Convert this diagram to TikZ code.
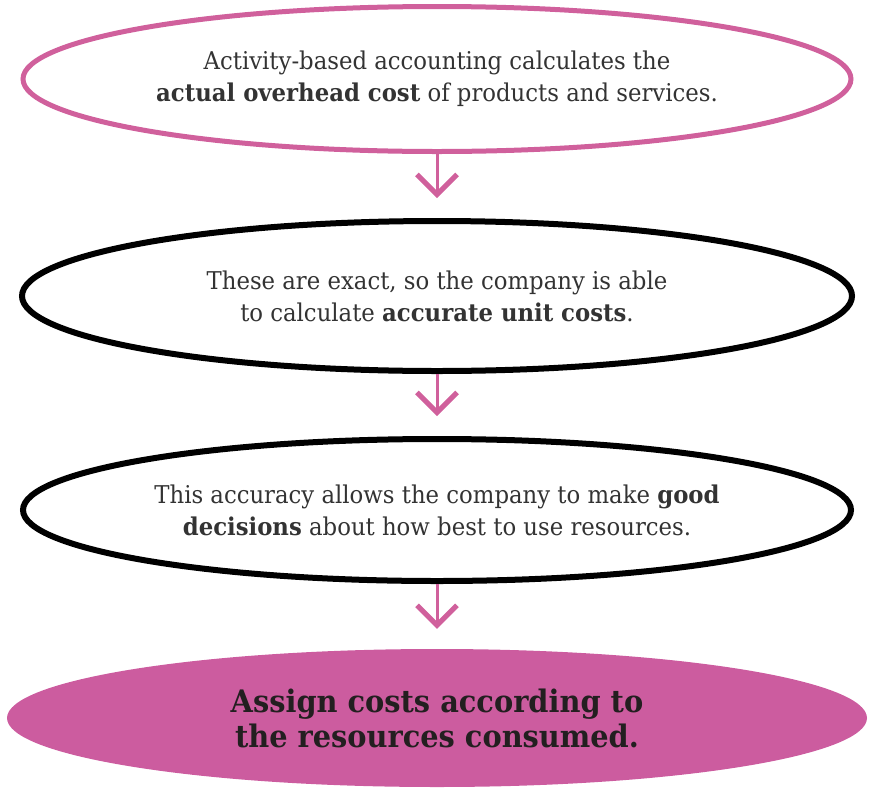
\documentclass[tikz,border=0pt]{standalone}
\usepackage{fontspec}
\setmainfont{DejaVu Serif}[FakeStretch=0.93]
\usetikzlibrary{shapes.geometric,arrows.meta}
\definecolor{pinkline}{HTML}{D0609C}
\definecolor{pinkfill}{HTML}{CC5C9F}
\definecolor{txt}{HTML}{333333}
\definecolor{darktxt}{HTML}{231F20}
\begin{document}
\begin{tikzpicture}[x=1pt,y=-1pt,
  bubble/.style={ellipse, inner sep=0pt, align=center, font=\fontsize{24.5}{32}\selectfont, text=txt},
  pinkring/.style={bubble, draw=pinkline, line width=5pt},
  blackring/.style={bubble, draw=black, line width=6pt},
  finalbubble/.style={ellipse, fill=pinkfill, inner sep=0pt, align=center, font=\fontsize{31}{35}\bfseries\selectfont, text=darktxt},
  flow/.style={draw=pinkline, line width=3pt, -{Straight Barb[length=20pt,width=40pt,line width=5pt]}, shorten >=20pt}
]
\useasboundingbox (0,0) rectangle (871,788);
\node[pinkring, minimum width=828pt, minimum height=145pt] (e1) at (437,79)
  {Activity-based accounting calculates the\\ \textbf{actual overhead cost} of products and services.};
\node[blackring, minimum width=830pt, minimum height=150pt] (e2) at (437,296)
  {These are exact, so the company is able\\ to calculate \textbf{accurate unit costs}.};
\node[blackring, minimum width=828pt, minimum height=142pt] (e3) at (437,510)
  {This accuracy allows the company to make \textbf{good}\\ \textbf{decisions} about how best to use resources.};
\node[finalbubble, minimum width=860pt, minimum height=138pt] (e4) at (437,718)
  {Assign costs according to\\ the resources consumed.};
\draw[flow] (e1) -- (e2);
\draw[flow] (e2) -- (e3);
\draw[flow] (e3) -- (e4);
\end{tikzpicture}
\end{document}
